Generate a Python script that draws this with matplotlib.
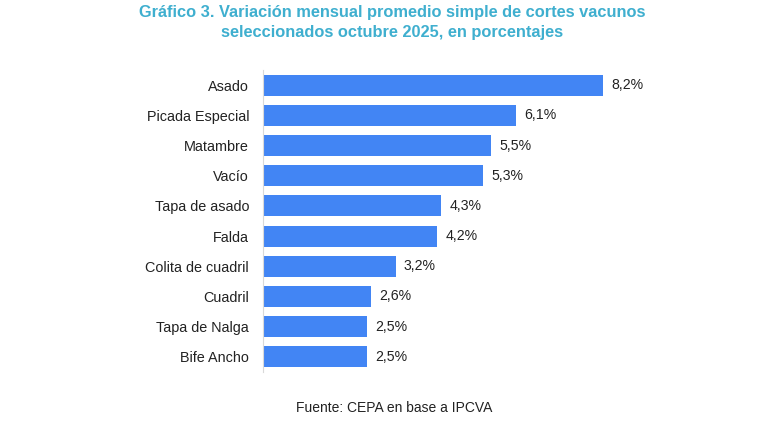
import matplotlib.pyplot as plt

plt.rcParams['font.family'] = ['Liberation Sans', 'DejaVu Sans']

# datos
cortes = ["Asado", "Picada Especial", "Matambre", "Vacío", "Tapa de asado",
          "Falda", "Colita de cuadril", "Cuadril", "Tapa de Nalga", "Bife Ancho"]
variacion = [8.2, 6.1, 5.5, 5.3, 4.3, 4.2, 3.2, 2.6, 2.5, 2.5]
etiquetas = ["8,2%", "6,1%", "5,5%", "5,3%", "4,3%", "4,2%", "3,2%", "2,6%", "2,5%", "2,5%"]

bar_color = "#4285F4"
title_color = "#3FAFCF"

fig = plt.figure(figsize=(7.67, 4.25), dpi=100)
ax = fig.add_axes([263 / 767, 1 - 372 / 425, 397 / 767, 302 / 425])

pos = list(range(len(cortes)))
ax.barh(pos, variacion, height=0.7, color=bar_color)
for y, v, txt in zip(pos, variacion, etiquetas):
    ax.text(v + 0.2, y, txt, va="center", ha="left", fontsize=10.2, color="#222222")

ax.set_yticks(pos)
ax.set_yticklabels(cortes, fontsize=10.4, color="#222222")
ax.set_ylim(9.5, -0.5)
ax.set_xlim(0, 397 / 41.46)
ax.set_xticks([])
ax.tick_params(axis="y", length=0, pad=10)
for s in ["top", "right", "bottom"]:
    ax.spines[s].set_visible(False)
ax.spines["left"].set_color("#D9D9D9")
ax.spines["left"].set_linewidth(0.8)

fig.text(392.5 / 767, 1 - 13 / 425, "Gráfico 3. Variación mensual promedio simple de cortes vacunos",
         ha="center", va="center", fontsize=11.8, fontweight="bold", color=title_color)
fig.text(392.5 / 767, 1 - 33 / 425, "seleccionados octubre 2025, en porcentajes",
         ha="center", va="center", fontsize=11.8, fontweight="bold", color=title_color)
fig.text(394 / 767, 1 - 408 / 425, "Fuente: CEPA en base a IPCVA",
         ha="center", va="center", fontsize=10, color="#222222")

fig.savefig("out.png", dpi=100)
